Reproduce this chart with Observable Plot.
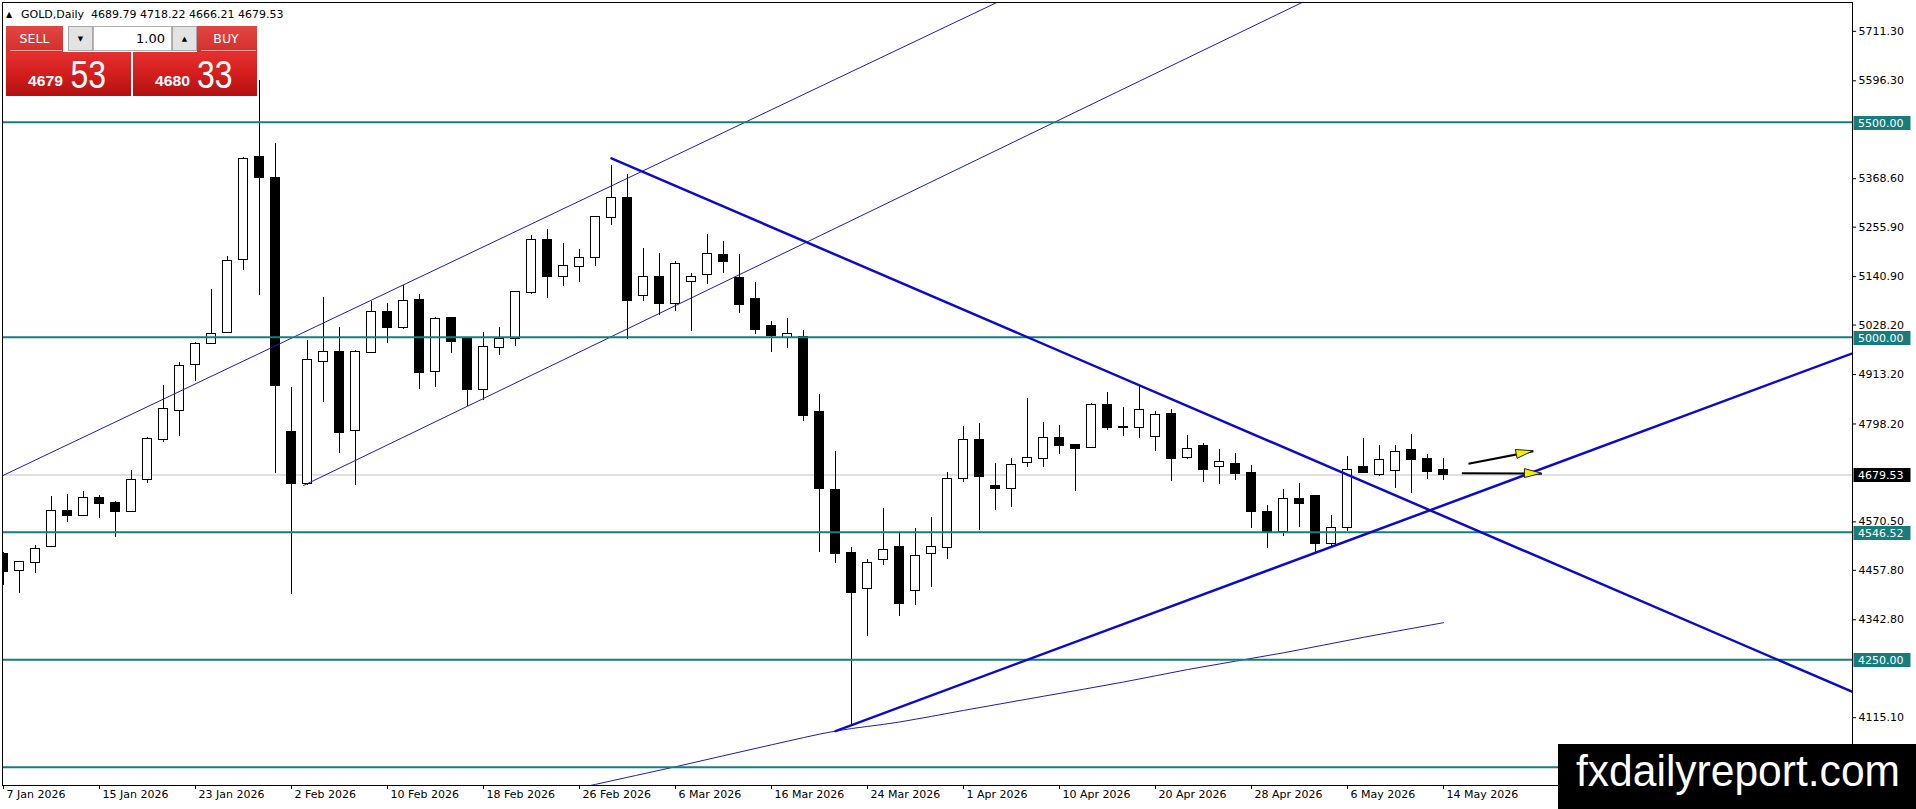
<!DOCTYPE html>
<html>
<head>
<meta charset="utf-8">
<script src="https://cdn.jsdelivr.net/npm/d3@7"></script>
<script src="https://cdn.jsdelivr.net/npm/@observablehq/plot@0.6"></script>
<style>
  html, body { margin: 0; padding: 0; background: #ffffff; overflow: hidden; }
  #wrap { position: relative; width: 1916px; height: 809px; }
  #chart svg { display: block; }
  #overlay { position: absolute; left: 0; top: 0; pointer-events: none; }
</style>
</head>
<body>
<div id="wrap">
  <div id="chart"></div>
  <svg id="overlay" width="1916" height="809" xmlns="http://www.w3.org/2000/svg">
    <defs>
      <linearGradient id="bigRed" x1="0" y1="0" x2="0" y2="1">
        <stop offset="0" stop-color="#e53030"/>
        <stop offset="0.5" stop-color="#d41e1e"/>
        <stop offset="1" stop-color="#b01010"/>
      </linearGradient>
      <linearGradient id="btnRed" x1="0" y1="0" x2="0" y2="1">
        <stop offset="0" stop-color="#e14542"/>
        <stop offset="1" stop-color="#d3302c"/>
      </linearGradient>
    </defs>
    <!-- title -->
    <text x="6" y="16.5" font-family="DejaVu Sans" font-size="8" fill="#000">▲</text>
    <text x="21" y="17.5" font-family="DejaVu Sans" font-size="11" fill="#000" xml:space="preserve">GOLD,Daily  4689.79 4718.22 4666.21 4679.53</text>
    <!-- trade panel -->
    <rect x="6" y="26" width="57" height="26" fill="url(#btnRed)"/>
    <line x1="10" y1="50.5" x2="62" y2="50.5" stroke="#ef9a97" stroke-width="1"/>
    <text x="34.5" y="43" text-anchor="middle" font-family="DejaVu Sans" font-size="12.5" fill="#fff">SELL</text>
    <rect x="68.5" y="26.5" width="24" height="24" fill="#e3e3e3" stroke="#a8a8a8"/>
    <text x="80.5" y="41" text-anchor="middle" font-family="DejaVu Sans" font-size="7" fill="#000">▼</text>
    <rect x="93.5" y="26.5" width="78" height="24" fill="#ffffff" stroke="#b4b4b4"/>
    <text x="165" y="43" text-anchor="end" font-family="DejaVu Sans" font-size="13" fill="#000">1.00</text>
    <rect x="172.5" y="26.5" width="24" height="24" fill="#e3e3e3" stroke="#a8a8a8"/>
    <text x="184.5" y="41" text-anchor="middle" font-family="DejaVu Sans" font-size="7" fill="#000">▲</text>
    <rect x="197" y="26" width="60" height="26" fill="url(#btnRed)"/>
    <line x1="201" y1="50.5" x2="256" y2="50.5" stroke="#ef9a97" stroke-width="1"/>
    <text x="226" y="43" text-anchor="middle" font-family="DejaVu Sans" font-size="12.5" fill="#fff">BUY</text>
    <rect x="6" y="52" width="125" height="44" fill="url(#bigRed)"/>
    <rect x="133" y="52" width="124" height="44" fill="url(#bigRed)"/>
    <text x="28" y="86" font-family="Liberation Sans" font-weight="bold" font-size="14" fill="#fff" textLength="35" lengthAdjust="spacingAndGlyphs">4679</text>
    <text x="70.5" y="87.5" font-family="Liberation Sans" font-size="38" fill="#fff" textLength="35.5" lengthAdjust="spacingAndGlyphs">53</text>
    <text x="155" y="86" font-family="Liberation Sans" font-weight="bold" font-size="14" fill="#fff" textLength="35" lengthAdjust="spacingAndGlyphs">4680</text>
    <text x="197" y="87.5" font-family="Liberation Sans" font-size="38" fill="#fff" textLength="35.5" lengthAdjust="spacingAndGlyphs">33</text>
    <!-- watermark -->
    <rect x="1558" y="744" width="358" height="65" fill="#000"/>
    <text x="1576" y="786" font-family="Liberation Sans" font-size="44" fill="#fff" textLength="324" lengthAdjust="spacingAndGlyphs">fxdailyreport.com</text>
    <g id="priceBoxes" font-family="DejaVu Sans" font-size="11" text-anchor="start"></g>
  </svg>
</div>
<script>
// ---------- DATA ----------
// bar index 0 = 7 Jan 2026 ... 90 = 14 May 2026 (daily bars)
const open = [4495,4457,4477,4513,4595,4585,4626,4614,4594,4670,
              4761,4829,4936,4986,5012,5180,5417,5370,4778,4660,
              4944,4964,4783,4964,5057,5023,5085,4921,5043,4994,
              4878,4975,4996,5105,5226,5142,5164,5185,5278,5322,
              5096,5140,5079,5129,5145,5189,5137,5088,5024,5000,
              4999,4825,4644,4496,4415,4483,4510,4412,4496,4512,
              4671,4759,4652,4649,4709,4719,4764,4747,4743,4841,
              4790,4789,4770,4820,4720,4746,4699,4703,4682,4592,
              4548,4623,4630,4521,4558,4696,4680,4689,4736,4715,
              4689.79];
const high = [4500,4478,4515,4629,4634,4642,4631,4619,4690,4766,
              4888,4940,4988,5110,5188,5417,5598,5450,4884,4992,
              5093,5022,4970,5084,5078,5120,5099,5045,5043,4994,
              5011,5023,5106,5237,5251,5217,5204,5279,5400,5378,
              5206,5195,5176,5148,5239,5223,5192,5127,5037,5043,
              5016,4866,4734,4512,4483,4601,4543,4554,4580,4686,
              4792,4799,4706,4717,4857,4801,4795,4749,4845,4872,
              4837,4886,4827,4832,4771,4752,4738,4729,4701,4608,
              4645,4659,4632,4585,4723,4764,4748,4748,4774,4727,
              4718.22];
const low = [4423,4405,4451,4510,4569,4583,4579,4535,4593,4659,
             4754,4770,4897,4985,5010,5156,5098,4682,4401,4655,
             4849,4730,4655,4962,4986,5019,4878,4884,4963,4839,
             4853,4958,4978,5099,5091,5118,5128,5164,5259,4994,
             5082,5051,5060,5014,5123,5147,5054,5007,4965,4973,
             4804,4500,4474,4096,4305,4470,4350,4376,4417,4482,
             4661,4550,4597,4605,4698,4698,4727,4641,4742,4783,
             4770,4765,4735,4664,4715,4663,4657,4667,4554,4508,
             4537,4558,4500,4512,4549,4684,4675,4647,4637,4668,
             4666.21];
const close = [4455,4477,4507,4595,4585,4626,4614,4595,4667,4761,
               4831,4933,4984,5007,5177,5414,5372,4888,4659,4946,
               4964,4778,4964,5057,5023,5082,4919,5040,4991,4878,
               4975,4994,5105,5226,5141,5164,5182,5278,5322,5086,
               5140,5079,5170,5138,5192,5175,5077,5017,5005,5006,
               4817,4649,4498,4407,4473,4504,4381,4491,4512,4668,
               4759,4675,4649,4701,4719,4764,4747,4740,4840,4791,
               4789,4829,4819,4719,4738,4693,4709,4682,4594,4548,
               4622,4613,4521,4554,4689,4685,4713,4733,4715,4687,
               4679.53];

const dateLabelBars = [0, 6, 12, 18, 24, 30, 36, 42, 48, 54, 60, 66, 72, 78, 84, 90];
const dateLabels = ["7 Jan 2026", "15 Jan 2026", "23 Jan 2026", "2 Feb 2026", "10 Feb 2026",
  "18 Feb 2026", "26 Feb 2026", "6 Mar 2026", "16 Mar 2026", "24 Mar 2026", "1 Apr 2026",
  "10 Apr 2026", "20 Apr 2026", "28 Apr 2026", "6 May 2026", "14 May 2026"];

const priceTicks = [5711.30, 5596.30, 5368.60, 5255.90, 5140.90, 5028.20, 4913.20,
  4798.20, 4570.50, 4457.80, 4342.80, 4115.10];

const levels = [5500.00, 5000.00, 4546.52, 4250.00, 4000.00];
const labelledLevels = [5500.00, 5000.00, 4546.52, 4250.00];
const bidPrice = 4679.53;

// moving-average curve (read at sample bars)
const maBars   = [35, 37, 42, 48, 52, 56, 60, 65, 70, 74, 80, 85, 90];
const maValues = [3943, 3960, 4001, 4052, 4084, 4105, 4132, 4165, 4198, 4227, 4266, 4302, 4336];

// trend lines: anchor points [bar, price]
const upperChannelBars = [-1, 63];
const upperChannelPrices = [4661.3, 5794.7];
const lowerChannelBars = [18.75, 82];
const lowerChannelPrices = [4655, 5793.5];
const descTrendBars = [38, 116];
const descTrendPrices = [5416, 4168];
const ascTrendBars = [52, 116];
const ascTrendPrices = [4084, 4968.5];

// arrows: start bar/price -> end bar/price
const arrowStartBars = [91.56, 91.15];
const arrowStartPrices = [4705.6, 4683.8];
const arrowEndBars = [95.62, 96.15];
const arrowEndPrices = [4734.9, 4682.6];

// ---------- BUILD ----------
const candles = open.map((o, i) => ({i, o, h: high[i], l: low[i], c: close[i]}));
const upC = candles.filter(d => d.c > d.o);
const dnC = candles.filter(d => d.c <= d.o);
const ma = maBars.map((b, k) => ({bar: b, value: maValues[k]}));
const mkLine = (bs, ps) => bs.map((b, k) => ({bar: b, price: ps[k]}));
const upperChannel = mkLine(upperChannelBars, upperChannelPrices);
const lowerChannel = mkLine(lowerChannelBars, lowerChannelPrices);
const descTrend = mkLine(descTrendBars, descTrendPrices);
const ascTrend = mkLine(ascTrendBars, ascTrendPrices);
const arrows = arrowStartBars.map((b, k) => ({x1: b, y1: arrowStartPrices[k], x2: arrowEndBars[k], y2: arrowEndPrices[k]}));

const TEAL = "#187c7c";
const THIN_BLUE = "#1e1ea6";
const THICK_BLUE = "#0c0cc8";
const halfBody = 0.31;

const chart = Plot.plot({
  width: 1916,
  height: 809,
  marginLeft: 2,
  marginRight: 64,
  marginTop: 2,
  marginBottom: 24,
  x: {domain: [-0.0625, 115.5625], axis: null},
  y: {domain: [3957.4, 5778.4], axis: null},
  style: {fontFamily: "DejaVu Sans", fontSize: "11px", background: "#ffffff", color: "#000000"},
  marks: [
    Plot.ruleY([bidPrice], {stroke: "#c0c0c0", strokeWidth: 1}),
    Plot.ruleX(candles, {x: "i", y1: "l", y2: "h", stroke: "black", strokeWidth: 1, shapeRendering: "crispEdges", clip: true}),
    Plot.rect(upC, {x1: d => d.i - halfBody, x2: d => d.i + halfBody, y1: "o", y2: "c",
      fill: "white", stroke: "black", strokeWidth: 1, insetTop: -0.5, insetBottom: -0.5,
      shapeRendering: "crispEdges", clip: true}),
    Plot.rect(dnC, {x1: d => d.i - halfBody, x2: d => d.i + halfBody, y1: "o", y2: "c",
      fill: "black", stroke: "black", strokeWidth: 1, insetTop: -0.5, insetBottom: -0.5,
      shapeRendering: "crispEdges", clip: true}),
    Plot.line(ma, {x: "bar", y: "value", stroke: THIN_BLUE, strokeWidth: 1, curve: "monotone-x", clip: true}),
    Plot.line(upperChannel, {x: "bar", y: "price", stroke: THIN_BLUE, strokeWidth: 1, clip: true}),
    Plot.line(lowerChannel, {x: "bar", y: "price", stroke: THIN_BLUE, strokeWidth: 1, clip: true}),
    Plot.ruleY(levels, {stroke: TEAL, strokeWidth: 2}),
    Plot.line(descTrend, {x: "bar", y: "price", stroke: THICK_BLUE, strokeWidth: 2.5, clip: true}),
    Plot.line(ascTrend, {x: "bar", y: "price", stroke: THICK_BLUE, strokeWidth: 2.5, clip: true}),
    Plot.link(arrows, {x1: "x1", y1: "y1", x2: "x2", y2: "y2", stroke: "black", strokeWidth: 2}),
    Plot.frame({stroke: "black", strokeWidth: 1}),
    Plot.axisY(priceTicks, {anchor: "right", tickSize: 3, tickPadding: 3,
      tickFormat: d => d.toFixed(2), label: null, fontSize: 11}),
    Plot.axisX(dateLabelBars, {anchor: "bottom", tickSize: 4, tickFormat: () => "", label: null}),
    Plot.text(dateLabelBars, {x: d => d, text: d => dateLabels[dateLabelBars.indexOf(d)],
      frameAnchor: "bottom", dy: 12, dx: 3, textAnchor: "start", fontSize: 11})
  ]
});
document.getElementById("chart").appendChild(chart);

// ---------- level labels and arrow heads, placed with Plot's own scales ----------
const xs = chart.scale("x");
const ys = chart.scale("y");
const boxes = d3.select("#priceBoxes");
const right = 1852;
function priceBox(v, fill) {
  const y = Math.round(ys.apply(v));
  boxes.append("rect").attr("x", right + 1.5).attr("y", y - 6).attr("width", 57).attr("height", 14)
    .attr("fill", fill);
  boxes.append("text").attr("x", right + 6).attr("y", y + 1).attr("dy", "0.35em")
    .attr("text-anchor", "start").attr("fill", "#fff").text(v.toFixed(2));
}
labelledLevels.forEach(v => priceBox(v, TEAL));
priceBox(bidPrice, "#000");

const g = d3.select(chart).append("g");
arrows.forEach(a => {
  const p1 = [xs.apply(a.x1), ys.apply(a.y1)];
  const p2 = [xs.apply(a.x2), ys.apply(a.y2)];
  const dx = p2[0] - p1[0], dy = p2[1] - p1[1];
  const len = Math.hypot(dx, dy);
  const ux = dx / len, uy = dy / len;
  const nx = -uy, ny = ux;
  const L = 17, w = 4.5;
  const bx = p2[0] - ux * L, by = p2[1] - uy * L;
  const pts = [[p2[0], p2[1]], [bx + nx * w, by + ny * w], [bx - nx * w, by - ny * w]];
  g.append("polygon").attr("points", pts.map(p => p.join(",")).join(" "))
    .attr("fill", "#f0f000").attr("stroke", "#222").attr("stroke-width", 1);
});
</script>
</body>
</html>
